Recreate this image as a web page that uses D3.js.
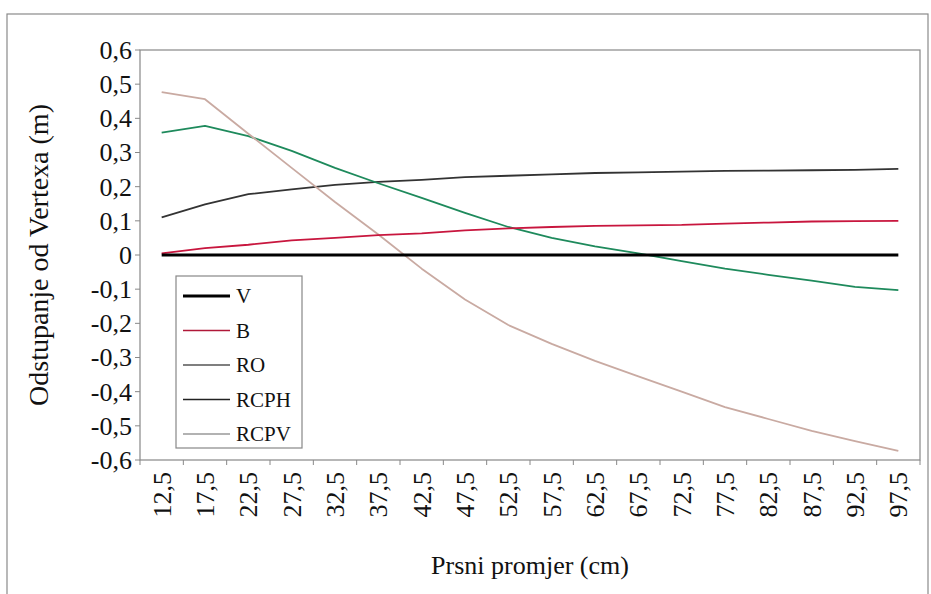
<!DOCTYPE html>
<html><head><meta charset="utf-8">
<script src="https://cdn.jsdelivr.net/npm/d3@7"></script>
<style>
body{margin:0;background:#fff;}
text{font-family:"Liberation Serif";}
</style>
</head><body>
<svg id="chart" width="931" height="594" style="font-family:'Liberation Serif'"></svg>
<script>
const categories = ["12,5","17,5","22,5","27,5","32,5","37,5","42,5","47,5","52,5","57,5","62,5","67,5","72,5","77,5","82,5","87,5","92,5","97,5"];
const seriesNames = ["V","B","RO","RCPH","RCPV"];
const V    = [0,0,0,0,0,0,0,0,0,0,0,0,0,0,0,0,0,0];
const B    = [0.005,0.02,0.03,0.043,0.05,0.058,0.063,0.072,0.078,0.082,0.085,0.087,0.088,0.092,0.095,0.098,0.099,0.1];
const RO   = [0.11,0.148,0.178,0.192,0.205,0.214,0.22,0.228,0.232,0.236,0.24,0.242,0.244,0.246,0.247,0.248,0.249,0.252];
const RCPH = [0.358,0.378,0.348,0.305,0.255,0.21,0.167,0.123,0.082,0.05,0.025,0.005,-0.018,-0.04,-0.058,-0.075,-0.093,-0.103];
const RCPV = [0.477,0.456,0.355,0.255,0.155,0.06,-0.04,-0.13,-0.205,-0.26,-0.31,-0.355,-0.40,-0.445,-0.48,-0.515,-0.545,-0.573];
const yTicks = [0.6,0.5,0.4,0.3,0.2,0.1,0,-0.1,-0.2,-0.3,-0.4,-0.5,-0.6];
const seriesColors = ["#000000","#c8163e","#333333","#1e8a5c","#c9aaa2"];
const legendColors = ["#000000","#b01838","#555555","#222222","#999999"];
const seriesWidths = [3,1.8,1.8,1.8,1.8];
const seriesData = [V,B,RO,RCPH,RCPV];

const svg = d3.select("#chart");
const L=140, T=50, R=920, Bt=460;

function txt(sel){ return sel.attr("font-family","Liberation Serif").style("font-family","Liberation Serif"); }

svg.append("rect").attr("x",7).attr("y",14).attr("width",921).attr("height",600)
  .attr("fill","none").attr("stroke","#8a8a8a").attr("stroke-width",1.2);

const x = d3.scaleBand().domain(categories).range([L,R]);
const y = d3.scaleLinear().domain([-0.6,0.6]).range([Bt,T]);

svg.append("rect").attr("x",L).attr("y",T).attr("width",R-L).attr("height",Bt-T)
  .attr("fill","none").attr("stroke","#888").attr("stroke-width",1.2);

// y ticks and labels
const gy = svg.append("g");
gy.selectAll("line").data(yTicks).enter().append("line")
  .attr("x1",L-5).attr("x2",L).attr("y1",d=>y(d)).attr("y2",d=>y(d)).attr("stroke","#888");
txt(gy.selectAll("text").data(yTicks).enter().append("text")
  .attr("x",L-8).attr("y",d=>y(d)).attr("dy","0.34em").attr("text-anchor","end")
  .attr("font-size",26).attr("fill","#111")
  .text(d => { const s = d3.format(".1f")(Math.abs(d)<1e-9?0:d).replace("−","-").replace(".",","); return s==="0,0"?"0":s; }));

// x ticks and labels
const gx = svg.append("g");
gx.selectAll("line").data(d3.range(categories.length+1)).enter().append("line")
  .attr("x1",i=>L+i*x.step()).attr("x2",i=>L+i*x.step()).attr("y1",Bt).attr("y2",Bt+5)
  .attr("stroke","#888");
txt(gx.selectAll("text").data(categories).enter().append("text")
  .attr("transform",d=>`translate(${x(d)+x.bandwidth()/2+9},${Bt+12}) rotate(-90)`)
  .attr("text-anchor","end").attr("font-size",26).attr("fill","#111").text(d=>d));

const line = d3.line().x((d,i)=>x(categories[i])+x.bandwidth()/2).y(d=>y(d));
[2,3,4,1,0].forEach(k=>{
  svg.append("path").datum(seriesData[k]).attr("d",line).attr("fill","none")
    .attr("stroke",seriesColors[k]).attr("stroke-width",seriesWidths[k])
    .attr("stroke-linejoin","round");
});

const lg = svg.append("g");
lg.append("rect").attr("x",176).attr("y",276).attr("width",126).attr("height",172)
  .attr("fill","#fff").attr("stroke","#888").attr("stroke-width",1.2);
seriesNames.forEach((n,i)=>{
  const yy = 296 + i*34.5;
  lg.append("line").attr("x1",183).attr("x2",230).attr("y1",yy).attr("y2",yy)
    .attr("stroke",legendColors[i]).attr("stroke-width",i===0?3:1.5);
  txt(lg.append("text").attr("x",236).attr("y",yy+7).attr("font-size",21).attr("fill","#111").text(n));
});

txt(svg.append("text").attr("x",530).attr("y",574).attr("text-anchor","middle")
  .attr("font-size",26).attr("fill","#111").text("Prsni promjer (cm)"));
txt(svg.append("text").attr("transform","translate(48,255) rotate(-90)").attr("text-anchor","middle")
  .attr("font-size",28).attr("fill","#111").text("Odstupanje od Vertexa (m)"));
</script>
</body></html>
